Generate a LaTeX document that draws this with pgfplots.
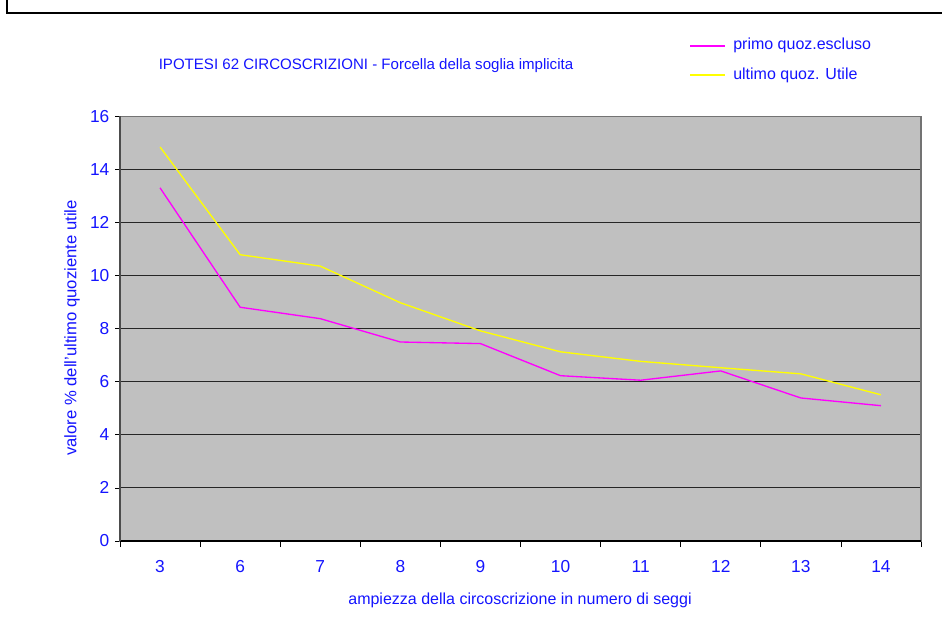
\documentclass[border=0pt]{standalone}
\usepackage{fontspec}
\setmainfont{Liberation Sans}
\usepackage{pgfplots}
\pgfplotsset{compat=1.18}
\definecolor{txtblue}{RGB}{20,20,255}
\definecolor{plotgray}{RGB}{192,192,192}
\definecolor{mag}{RGB}{255,0,255}
\definecolor{yel}{RGB}{255,255,0}
\begin{document}
\begin{tikzpicture}
\useasboundingbox (0,0) rectangle (706.5pt,474.75pt);
\draw[line width=1.5pt,black] (5.25pt,474.75pt) -- (5.25pt,465pt) -- (706.5pt,465pt);
\begin{axis}[
  at={(90pt,69pt)}, anchor=south west,
  scale only axis, width=600.75pt, height=318.4pt,
  xmin=-0.5, xmax=9.5, ymin=0, ymax=16,
  axis background/.style={fill=plotgray},
  axis line style={draw=gray!90!black, line width=0.8pt},
  xtick={0,...,9},
  xticklabels={3,6,7,8,9,10,11,12,13,14},
  major x tick style={draw=none},
  minor xtick={-0.5,0.5,...,9.5},
  minor tick length=4.5pt,
  minor x tick style={draw=black, line width=0.6pt},
  ytick={0,2,...,16},
  major tick length=3.5pt,
  y tick style={draw=black, line width=0.6pt},
  tick align=outside,
  xtick pos=bottom, ytick pos=left,
  ymajorgrids,
  major grid style={draw=black!85, line width=0.8pt},
  tick label style={font=\fontsize{13}{15}\selectfont, text=txtblue},
  yticklabel style={xshift=-1pt},
  xticklabel style={yshift=-7pt, text height=9.5pt, text depth=0pt},
  /pgf/number format/assume math mode=true,
  clip=false,
]
\addplot[mag, line width=1pt] coordinates {(0,13.31) (1,8.81) (2,8.38) (3,7.50) (4,7.44) (5,6.23) (6,6.06) (7,6.41) (8,5.39) (9,5.10)};
\addplot[yel, line width=1pt] coordinates {(0,14.85) (1,10.79) (2,10.36) (3,8.98) (4,7.92) (5,7.13) (6,6.77) (7,6.53) (8,6.30) (9,5.51)};
\draw[black, line width=1.1pt] (axis cs:-0.5,0) -- (axis cs:9.5,0);
\draw[black!70, line width=1.1pt] (axis cs:-0.5,0) -- (axis cs:-0.5,16);
\end{axis}
\node[txtblue, font=\fontsize{11.3}{13}\selectfont] at (274.5pt,425.25pt) {IPOTESI 62 CIRCOSCRIZIONI - Forcella della soglia implicita};
\draw[draw=mag, line width=1.2pt] (517.5pt,440.25pt) -- (543.75pt,440.25pt);
\node[txtblue, anchor=west, font=\fontsize{12}{14}\selectfont, inner sep=0pt] at (549.75pt,440.5pt) {primo quoz.escluso};
\draw[draw=yel, line width=1.2pt] (517.5pt,418.5pt) -- (543.75pt,418.5pt);
\node[txtblue, anchor=west, font=\fontsize{12}{14}\selectfont, inner sep=0pt] at (549.75pt,418.5pt) {ultimo quoz. Utile};
\node[txtblue, rotate=90, font=\fontsize{12.5}{15}\selectfont] at (54pt,228.75pt) {valore \% dell'ultimo quoziente utile};
\node[txtblue, font=\fontsize{12}{14}\selectfont] at (390pt,24.75pt) {ampiezza della circoscrizione in numero di seggi};
\end{tikzpicture}
\end{document}
